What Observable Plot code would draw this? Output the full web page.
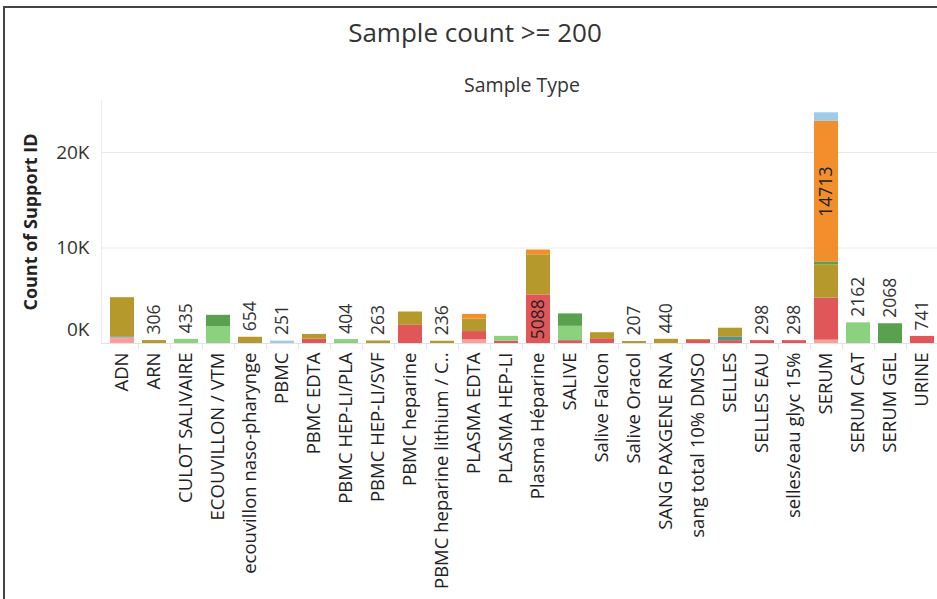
<!DOCTYPE html>
<html><head><meta charset="utf-8">
<script src="https://cdn.jsdelivr.net/npm/d3@7"></script>
<script src="https://cdn.jsdelivr.net/npm/@observablehq/plot@0.6"></script>
<style>
body{margin:0;background:#fff;font-family:"Open Sans",sans-serif;}
#wrap{position:relative;width:937px;height:599px;overflow:hidden;background:#fff;}
#frame{position:absolute;left:3px;top:6px;width:980px;height:640px;border-top:2px solid #444;border-left:2px solid #444;box-sizing:border-box;}
#title{position:absolute;top:14px;left:0;width:950px;text-align:center;font-size:26px;color:#333;line-height:36px;}
#sub{position:absolute;top:72px;left:101px;width:842px;text-align:center;font-size:19.5px;color:#333;line-height:26px;}
#chart{position:absolute;left:0;top:100px;}
</style></head>
<body>
<div id="wrap">
  <div id="frame"></div>
  <div id="title">Sample count &gt;= 200</div>
  <div id="sub">Sample Type</div>
  <div id="chart"></div>
</div>
<script>
const categories = ["ADN","ARN","CULOT SALIVAIRE","ECOUVILLON / VTM","ecouvillon naso-pharynge","PBMC","PBMC EDTA","PBMC HEP-LI/PLA","PBMC HEP-LI/SVF","PBMC heparine","PBMC heparine lithium / C..","PLASMA EDTA","PLASMA HEP-LI","Plasma Héparine","SALIVE","Salive Falcon","Salive Oracol","SANG PAXGENE RNA","sang total 10% DMSO","SELLES","SELLES EAU","selles/eau glyc 15%","SERUM","SERUM CAT","SERUM GEL","URINE"];

const seriesNames = ["Groupe 1","Groupe 2","Groupe 3","Groupe 4","Groupe 5","Groupe 6","Groupe 7","Groupe 8"];
const seriesColors = ["#FF9D9A","#E15759","#499894","#B6992D","#8CD17D","#59A14F","#F28E2B","#A0CBE8"];

//                 ADN  ARN CULOT VTM naso PBMC EDTA PLA  SVF  hep  lith PLEDTA PLHEP PlHep SAL  Falc Orac PAX  DMSO SEL  SEAU sglyc SERUM  CAT  GEL  URINE
const groupe1 =   [600, 0,  0,    0,   0,   0,   0,   0,   0,   0,   0,   400,   0,    0,    0,   0,   0,   0,   0,   0,   0,   0,    350,   0,   0,   0];
const groupe2 =   [0,   0,  0,    0,   0,   0,   450, 0,   0,   1900,0,   850,   250,  5088, 300, 500, 0,   0,   320, 300, 298, 298,  4400,  0,   0,   741];
const groupe3 =   [100, 0,  0,    0,   0,   0,   0,   0,   0,   0,   0,   0,     0,    0,    0,   0,   0,   0,   0,   350, 0,   0,    0,     0,   0,   0];
const groupe4 =   [4100,306,0,    0,   654, 0,   500, 0,   263, 1400,236, 1300,  0,    4200, 0,   630, 207, 440, 100, 950, 0,   0,    3500,  0,   0,   0];
const groupe5 =   [0,   0,  435,  1750,0,   0,   0,   404, 0,   0,   0,   0,     500,  0,    1500,0,   0,   0,   0,   0,   0,   0,    0,     2162,0,   0];
const groupe6 =   [0,   0,  0,    1200,0,   0,   0,   0,   0,   0,   0,   0,     0,    0,    1300,0,   0,   0,   0,   0,   0,   0,    300,   0,   2068,0];
const groupe7 =   [0,   0,  0,    0,   0,   0,   0,   0,   0,   0,   0,   500,   0,    500,  0,   0,   0,   0,   0,   0,   0,   0,    14713, 0,   0,   0];
const groupe8 =   [0,   0,  0,    0,   0,   251, 0,   0,   0,   0,   0,   0,     0,    0,    0,   0,   0,   0,   0,   0,   0,   0,    900,   0,   0,   0];
const seriesValues = [groupe1,groupe2,groupe3,groupe4,groupe5,groupe6,groupe7,groupe8];

// categories labelled above the bar with their total
const labelAbove = ["ARN","CULOT SALIVAIRE","ecouvillon naso-pharynge","PBMC","PBMC HEP-LI/PLA","PBMC HEP-LI/SVF","PBMC heparine lithium / C..","Salive Oracol","SANG PAXGENE RNA","SELLES EAU","selles/eau glyc 15%","SERUM CAT","SERUM GEL","URINE"];
// segments labelled inside
const labelInside = [["Plasma Héparine","Groupe 2"],["SERUM","Groupe 7"]];

const yTicks = [0, 10000, 20000];

const data = [];
const insideData = [];
categories.forEach((c, ci) => {
  let base = 0;
  seriesNames.forEach((s, si) => {
    const v = seriesValues[si][ci];
    if (v > 0) {
      data.push({category: c, series: s, value: v});
      if (labelInside.some(([lc, ls]) => lc === c && ls === s)) insideData.push({category: c, mid: base + v / 2, value: v});
    }
    base += v;
  });
});
const totals = categories.map((c, ci) => ({category: c, total: d3.sum(seriesValues, arr => arr[ci])}));
const aboveData = totals.filter(d => labelAbove.includes(d.category));
const kfmt = d => (d / 1000) + "K";

const chart = Plot.plot({
  width: 937,
  height: 499,
  marginTop: 0,
  marginLeft: 101,
  marginRight: -6,
  marginBottom: 256,
  style: {fontFamily: "'Open Sans', sans-serif", fontSize: "17px", color: "#333", background: "transparent", overflow: "visible"},
  x: {domain: categories, paddingInner: 0.25, paddingOuter: 0.125, align: 0.5, label: null},
  y: {domain: [0, 25450], label: null},
  color: {domain: seriesNames, range: seriesColors},
  marks: [
    Plot.gridY(yTicks.slice(1), {stroke: "#e9e9e9", strokeOpacity: 1}),
    Plot.frame({anchor: "left", stroke: "#ececec"}),
    Plot.ruleY([0], {stroke: "#e2e2e2"}),
    Plot.ruleX(categories, {x: d => d, dx: 16.2, y1: 0, y2: -650, stroke: "#e2e2e2"}),
    Plot.barY(data, {x: "category", y: "value", fill: "series", order: seriesNames}),
    Plot.text(aboveData, {x: "category", y: "total", text: d => String(d.total), rotate: -90, textAnchor: "start", dy: -6, fontSize: 17.5, fill: "#333"}),
    Plot.text(insideData, {x: "category", y: "mid", text: d => String(d.value), rotate: -90, textAnchor: "middle", fontSize: 17.5, fill: "#222"}),
    Plot.axisY(yTicks.slice(1), {tickSize: 0, tickPadding: 12, tickFormat: kfmt, fontSize: 19, label: null}),
    Plot.axisY([0], {tickSize: 0, tickPadding: 12, tickFormat: kfmt, fontSize: 19, dy: -14, label: null}),
    Plot.text(["Count of Support ID"], {frameAnchor: "left", dx: -70, rotate: -90, textAnchor: "middle", fontWeight: "bold", fontSize: 18, fill: "#222"}),
    Plot.axisX({tickRotate: -90, tickSize: 0, tickPadding: 9, fontSize: 18.5, fill: "#222", label: null})
  ]
});
// make sure tick label sizes are applied
d3.select(chart).selectAll('g[aria-label="x-axis tick label"]').attr("font-size", 18.5);
d3.select(chart).selectAll('g[aria-label="y-axis tick label"]').attr("font-size", 19);
document.getElementById("chart").appendChild(chart);
</script>
</body></html>
